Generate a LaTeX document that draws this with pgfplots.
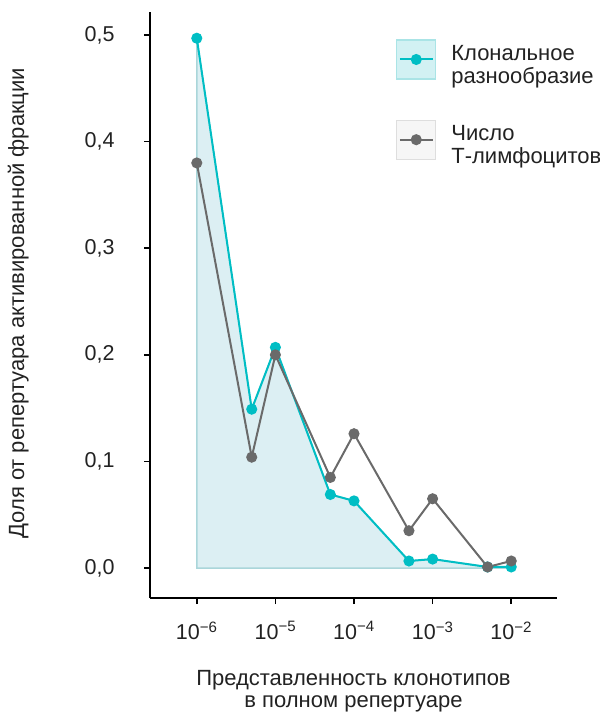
\documentclass[border=0pt]{standalone}
\usepackage{pgfplots}
\pgfplotsset{compat=1.18}
\usepackage{fontspec}
\setmainfont{Liberation Sans}
\definecolor{tealline}{HTML}{00BEC4}
\definecolor{grayline}{HTML}{6A6A6A}
\definecolor{areafill}{HTML}{DCEFF3}
\definecolor{areaborder}{HTML}{AAD6DA}
\definecolor{legfillA}{HTML}{D2F1F3}
\definecolor{legborderA}{HTML}{AAE4E6}
\definecolor{legfillB}{HTML}{F6F6F6}
\definecolor{legborderB}{HTML}{DEDEDE}
\definecolor{txt}{HTML}{222222}
\begin{document}
\begin{tikzpicture}
\useasboundingbox (-150pt,-115pt) rectangle (450pt,598pt);
\begin{axis}[
  at={(0,0)}, anchor=south west,
  scale only axis, width=407pt, height=586pt,
  xmode=log, xmin=2.54e-7, xmax=0.0382,
  ymin=-0.0281, ymax=0.5216,
  axis lines=left,
  axis line style={-, line width=2pt, black},
  xtick={1e-6,1e-5,1e-4,1e-3,1e-2},
  xticklabels={10\textsuperscript{−6},10\textsuperscript{−5},10\textsuperscript{−4},10\textsuperscript{−3},10\textsuperscript{−2}},
  minor xtick={}, xminorticks=false, yminorticks=false,
  ytick={0,0.1,0.2,0.3,0.4,0.5},
  yticklabels={{0,0},{0,1},{0,2},{0,3},{0,4},{0,5}},
  tick align=outside, major tick length=6pt,
  tick style={line width=1.5pt, black},
  tick label style={font=\fontsize{21.5}{24}\selectfont, text=txt},
  yticklabel style={xshift=-26pt},
  xticklabel style={yshift=-14pt},
  xlabel={\begin{tabular}{c}Представленность клонотипов\\[-1pt]в полном репертуаре\end{tabular}},
  xlabel style={font=\fontsize{22}{23}\selectfont, text=txt, at={(axis description cs:0.5,-0.160)}, anchor=center},
  ylabel={Доля от репертуара активированной фракции},
  ylabel style={font=\fontsize{22}{24}\selectfont, text=txt, at={(axis description cs:-0.324,0.503)}, anchor=center},
  legend style={at={(axis description cs:0.597,0.957)}, anchor=north west, draw=none, fill=none,
    font=\fontsize{22}{23}\selectfont, text=txt, row sep=40pt,
    nodes={inner sep=0pt},
    /tikz/every odd column/.style={column sep=15pt}},
  legend cell align=left,
]
\addplot[fill=areafill, draw=areaborder, line width=1.5pt, forget plot] coordinates {
  (1e-6,0) (1e-6,0.497) (5e-6,0.149) (1e-5,0.207) (5e-5,0.069) (1e-4,0.063)
  (5e-4,0.0066) (1e-3,0.0084) (5e-3,0.001) (1e-2,0.001) (1e-2,0) } -- cycle;
\addplot[color=tealline, line width=2pt, mark=*, mark size=4.5pt, mark options={fill=tealline, draw=tealline},
  legend image code/.code={
    \draw[fill=legfillA, draw=legborderA, line width=1.2pt] (0pt,-19.5pt) rectangle (39pt,19.5pt);
    \draw[tealline, line width=2pt] (3pt,0pt) -- (36pt,0pt);
    \fill[tealline] (19.5pt,0pt) circle (4.5pt);
  }] coordinates {
  (1e-6,0.497) (5e-6,0.149) (1e-5,0.207) (5e-5,0.069) (1e-4,0.063)
  (5e-4,0.0066) (1e-3,0.0084) (5e-3,0.001) (1e-2,0.001) };
\addlegendentry{\begin{tabular}{@{}l@{}}Клональное\\разнообразие\end{tabular}}
\addplot[color=grayline, line width=2pt, mark=*, mark size=4.5pt, mark options={fill=grayline, draw=grayline},
  legend image code/.code={
    \draw[fill=legfillB, draw=legborderB, line width=1.2pt] (0pt,-19.5pt) rectangle (39pt,19.5pt);
    \draw[grayline, line width=2pt] (3pt,0pt) -- (36pt,0pt);
    \fill[grayline] (19.5pt,0pt) circle (4.5pt);
  }] coordinates {
  (1e-6,0.380) (5e-6,0.104) (1e-5,0.200) (5e-5,0.085) (1e-4,0.126)
  (5e-4,0.035) (1e-3,0.065) (5e-3,0.001) (1e-2,0.0066) };
\addlegendentry{\begin{tabular}{@{}l@{}}Число\\Т-лимфоцитов\end{tabular}}
\end{axis}
\end{tikzpicture}
\end{document}
